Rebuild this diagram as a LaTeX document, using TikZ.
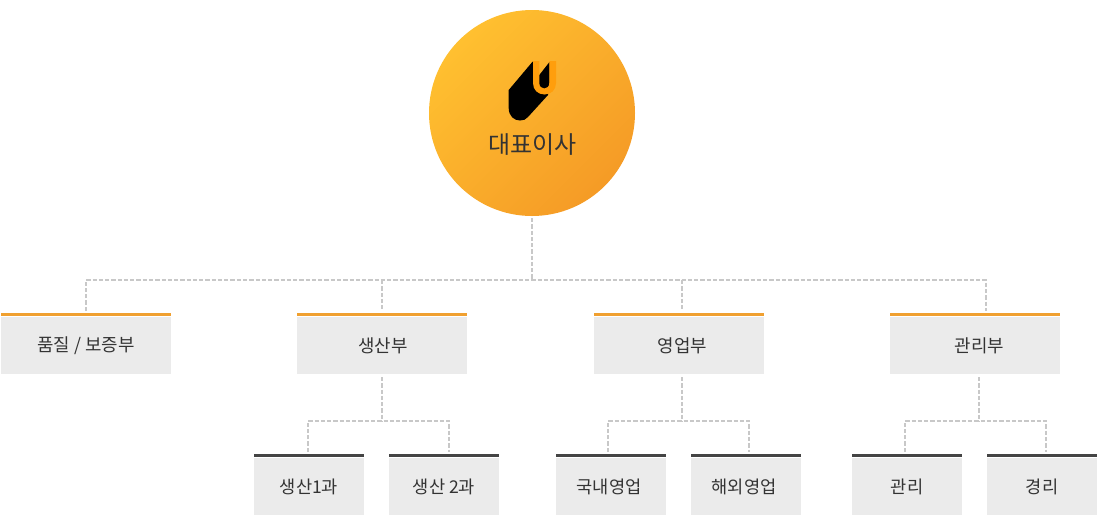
\documentclass[tikz,border=0pt]{standalone}
\usepackage{fontspec}
\setmainfont{Noto Sans CJK KR}
\definecolor{orangebar}{HTML}{F0A030}
\definecolor{darkbar}{HTML}{444444}
\definecolor{boxgrey}{HTML}{EBEBEB}
\definecolor{linegrey}{HTML}{C8C8C8}
\definecolor{txt}{HTML}{333333}
\definecolor{logoorange}{HTML}{FF9E0C}
\definecolor{circA}{HTML}{FFC030}
\definecolor{circM}{HTML}{F9A92B}
\definecolor{circB}{HTML}{F59B26}
\tikzset{
  x=0.75pt,y=-0.75pt,
  link/.style={draw=linegrey,line width=1.15pt,dash pattern=on 3.2pt off 1.5pt},
  upperbox/.style={fill=boxgrey,minimum width=127.5pt,minimum height=42.75pt,inner sep=0pt,text=txt,font=\fontsize{13.4pt}{15pt}\selectfont},
  lowerbox/.style={fill=boxgrey,minimum width=82.5pt,minimum height=42.75pt,inner sep=0pt,text=txt,font=\fontsize{13.2pt}{15pt}\selectfont},
}
\begin{document}
\begin{tikzpicture}
\useasboundingbox (0,0) rectangle (1110,526);
\node[circle,minimum size=154.5pt,inner sep=0pt,top color=circA,middle color=circM,bottom color=circB,shading angle=45] (ceo) at (532,113) {};
% logo
\fill[black] (535,61.5) -- (532.7,61.5) -- (508.7,90) -- (508.7,108) .. controls (508.7,116) and (514,120.5) .. (520,120.5) .. controls (523.5,120.5) and (526,119.5) .. (528,117) -- (548,95) -- (549.5,88) -- (549.5,62) -- (539.3,75) -- (536,75) -- cycle;
\fill[logoorange] (533,61) -- (539.3,61) -- (539.3,83) .. controls (539.3,86.5) and (541.5,88.5) .. (544.3,88.5) .. controls (547.1,88.5) and (549.3,86.5) .. (549.3,83) -- (549.3,61) -- (556,61) -- (556,83) .. controls (556,90) and (551,94.5) .. (544.5,94.5) .. controls (538,94.5) and (533,90) .. (533,83) -- cycle;
\node[text=txt,font=\fontsize{18pt}{20pt}\selectfont,inner sep=0pt] (ceotext) at (532.3,145) {대표이사};
% upper boxes
\node[upperbox] (quality) at (86,345.5) {\raisebox{0.7pt}{품질 / 보증부}};
\node[upperbox] (prod) at (382,345.5) {\raisebox{0.7pt}{\hspace{1.5pt}생산부}};
\node[upperbox] (sales) at (679,345.5) {\raisebox{0.7pt}{\hspace{5pt}영업부}};
\node[upperbox] (admin) at (975,345.5) {\raisebox{0.7pt}{\hspace{6.5pt}관리부}};
\foreach \n in {quality,prod,sales,admin}
  \fill[orangebar] ([yshift=3.0pt]\n.north west) rectangle ([yshift=0.75pt]\n.north east);
% lower boxes
\node[lowerbox] (p1) at (309,486.5) {생산1과};
\node[lowerbox] (p2) at (444,486.5) {생산 2과};
\node[lowerbox] (s1) at (611,486.5) {\hspace{-3pt}국내영업};
\node[lowerbox] (s2) at (746,486.5) {\hspace{-3pt}해외영업};
\node[lowerbox] (a1) at (907,486.5) {관리};
\node[lowerbox] (a2) at (1042,486.5) {경리};
\foreach \n in {p1,p2,s1,s2,a1,a2}
  \fill[darkbar] ([yshift=3.0pt]\n.north west) rectangle ([yshift=0.75pt]\n.north east);
% connectors
\coordinate (ceoS) at (532,218);
\coordinate (jq) at (86,280); \coordinate (jq2) at (86,311);
\coordinate (jp) at (382,280); \coordinate (jp2) at (382,311);
\coordinate (js) at (682,280); \coordinate (js2) at (682,311);
\coordinate (ja) at (986,280); \coordinate (ja2) at (986,311);
\coordinate (jm) at (532,280);
\draw[link] (ceoS) -- (jm);
\draw[link] (jq2) -- (jq) -- (ja) -- (ja2);
\draw[link] (jp) -- (jp2);
\draw[link] (js) -- (js2);
% lower groups
\draw[link] (382,377) -- (382,421);
\draw[link] (308,452) -- (308,421) -- (449,421) -- (449,452);
\draw[link] (682,377) -- (682,421);
\draw[link] (608,452) -- (608,421) -- (749,421) -- (749,452);
\draw[link] (979,377) -- (979,421);
\draw[link] (905,452) -- (905,421) -- (1046,421) -- (1046,452);
\end{tikzpicture}
\end{document}
